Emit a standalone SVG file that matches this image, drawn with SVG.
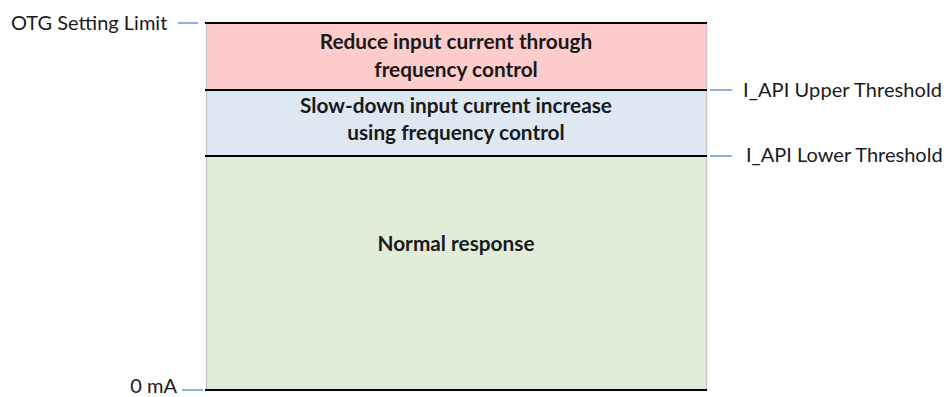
<svg xmlns="http://www.w3.org/2000/svg" width="949" height="397" viewBox="0 0 949 397">
<style>
.lbl{font-family:Lato,"Open Sans","Liberation Sans",sans-serif;font-size:20px;fill:#1a1a1a}
.bt{font-family:Lato,"Open Sans","Liberation Sans",sans-serif;font-size:20.8px;font-weight:bold;fill:#1a1a1a;text-anchor:middle}
.tick{stroke:#5B9BD5;stroke-width:1.5}
.bar{stroke:#000;stroke-width:2}
.side{stroke:#c8c8c8;stroke-width:1.5}
</style>
<rect width="949" height="397" fill="#fff"/>
<g id="zone-reduce">
<rect x="206" y="23" width="501" height="67" fill="#FFCCCC"/>
<text class="bt" x="456" y="49">Reduce input current through</text>
<text class="bt" x="456" y="77">frequency control</text>
</g>
<g id="zone-slow">
<rect x="206" y="90" width="501" height="66" fill="#DEE8F3"/>
<text class="bt" x="456" y="113">Slow-down input current increase</text>
<text class="bt" x="456" y="140">using frequency control</text>
</g>
<g id="zone-normal">
<rect x="206" y="156" width="501" height="234" fill="#E2EDD9"/>
<text class="bt" x="456" y="251">Normal response</text>
</g>
<g id="connectors">
<line class="side" x1="206.5" y1="23" x2="206.5" y2="390"/>
<line class="side" x1="706.5" y1="23" x2="706.5" y2="390"/>
<line class="bar" x1="205" y1="23" x2="707" y2="23"/>
<line class="bar" x1="205" y1="90" x2="707" y2="90"/>
<line class="bar" x1="205" y1="156" x2="707" y2="156"/>
<line class="bar" x1="205" y1="390" x2="707" y2="390"/>
<line class="tick" x1="178" y1="23" x2="198" y2="23"/>
<line class="tick" x1="182" y1="390" x2="203" y2="390"/>
<line class="tick" x1="710" y1="90" x2="732" y2="90"/>
<line class="tick" x1="710" y1="156" x2="732" y2="156"/>
</g>
<g id="label-otg"><text class="lbl" x="11" y="30">OTG Setting Limit</text></g>
<g id="label-upper"><text class="lbl" x="743" y="97" textLength="199">I_API Upper Threshold</text></g>
<g id="label-lower"><text class="lbl" x="746" y="162">I_API Lower Threshold</text></g>
<g id="label-zero"><text class="lbl" x="177" y="393" text-anchor="end">0 mA</text></g>
</svg>
